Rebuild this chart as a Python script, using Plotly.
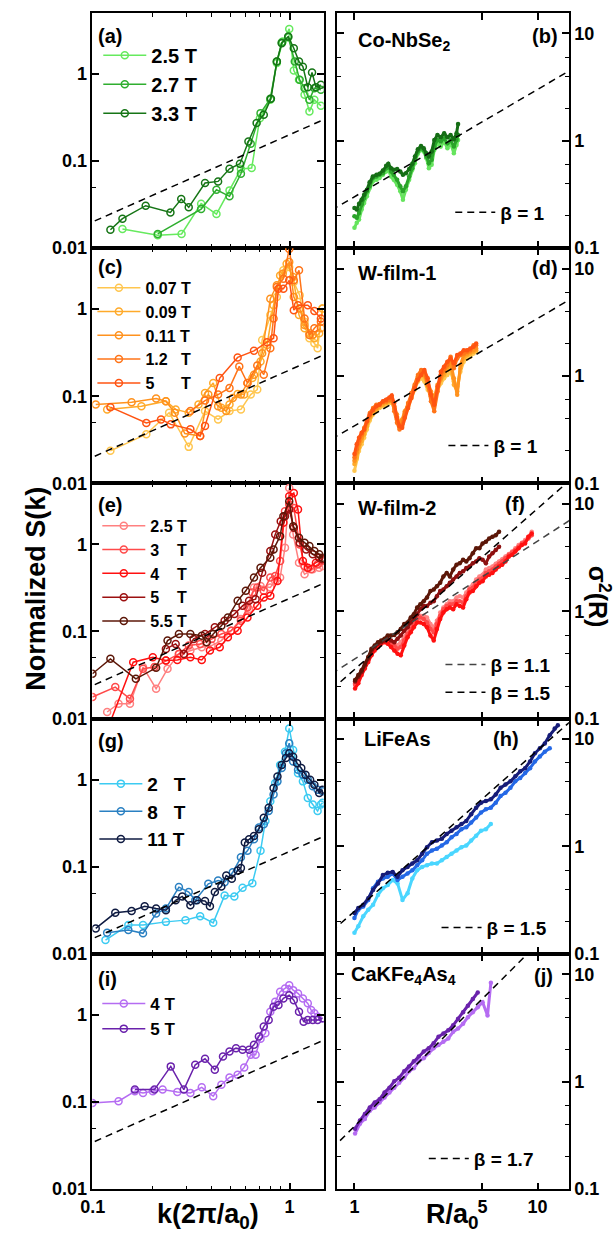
import plotly.graph_objects as go

W, H = 614, 1239
FONT = "Liberation Sans, Arial, Helvetica, sans-serif"

# ---------------- S(k) data (left column) ----------------
# (a) Co-NbSe2
k_a_25 = [0.1415, 0.2138, 0.2826, 0.3553, 0.4252, 0.4953, 0.566, 0.642, 0.7066, 0.7985, 0.8619, 0.9231, 0.9962, 1.051, 1.117, 1.192, 1.262, 1.337, 1.443]
s_a_25 = [0.0165, 0.0140, 0.0145, 0.0323, 0.0245, 0.0459, 0.0806, 0.0827, 0.310, 0.503, 1.33, 2.35, 3.28, 1.09, 0.853, 0.574, 0.370, 0.503, 0.430]
k_a_27 = [0.2138, 0.3553, 0.4252, 0.4953, 0.566, 0.6348, 0.712, 0.7985, 0.8619, 0.9128, 0.9849, 1.063, 1.126, 1.192, 1.262, 1.337, 1.443]
s_a_27 = [0.0145, 0.0280, 0.0467, 0.0392, 0.0713, 0.1574, 0.354, 0.517, 1.385, 2.29, 2.63, 1.385, 0.853, 0.685, 0.503, 0.685, 0.655]
k_a_33 = [0.1229, 0.1415, 0.1857, 0.2481, 0.2815, 0.3073, 0.3719, 0.4334, 0.4953, 0.5596, 0.618, 0.6801, 0.7396, 0.804, 0.8619, 0.9128, 0.9849, 1.051, 1.117, 1.169, 1.238, 1.301, 1.362, 1.443]
s_a_33 = [0.0162, 0.0217, 0.0306, 0.0256, 0.0365, 0.0293, 0.0557, 0.0582, 0.0813, 0.0928, 0.1675, 0.272, 0.339, 0.517, 1.385, 2.25, 2.68, 1.97, 1.385, 1.21, 0.703, 1.036, 0.703, 0.748]

# (c) W-film-1
k_c_007 = [0.1229, 0.1871, 0.2443, 0.3073, 0.3719, 0.4334, 0.4953, 0.566, 0.6348, 0.6853, 0.7258, 0.7985, 0.8619, 0.9304, 0.9962, 1.051, 1.126, 1.192, 1.262, 1.337, 1.389, 1.471]
s_c_007 = [0.0236, 0.0366, 0.0646, 0.0262, 0.0675, 0.0542, 0.0675, 0.0705, 0.1045, 0.1191, 0.443, 0.854, 1.38, 2.79, 3.04, 2.05, 1.445, 0.717, 0.463, 0.406, 0.356, 1.018]
k_c_009 = [0.1183, 0.1767, 0.2353, 0.2638, 0.3073, 0.3446, 0.3719, 0.4093, 0.4502, 0.4953, 0.5448, 0.5881, 0.6471, 0.712, 0.7685, 0.8295, 0.8955, 0.9663, 1.043, 1.117, 1.192, 1.262, 1.337, 1.415, 1.471]
s_c_009 = [0.0705, 0.0769, 0.0877, 0.0705, 0.0646, 0.0804, 0.1091, 0.1419, 0.0736, 0.0804, 0.1063, 0.1045, 0.1618, 0.251, 0.388, 1.11, 2.44, 3.32, 2.34, 0.854, 0.602, 0.528, 0.463, 0.528, 1.018]
k_c_011 = [0.1035, 0.1575, 0.2098, 0.2353, 0.2608, 0.2936, 0.3513, 0.3865, 0.4334, 0.4768, 0.5145, 0.566, 0.611, 0.6596, 0.7258, 0.7985, 0.8619, 0.9231, 0.9962, 1.051, 1.126, 1.192, 1.312, 1.443]
s_c_011 = [0.0804, 0.0854, 0.0940, 0.0877, 0.0646, 0.0372, 0.0350, 0.1045, 0.0769, 0.0675, 0.0957, 0.1045, 0.1419, 0.1767, 0.312, 1.32, 1.88, 2.55, 3.47, 1.38, 1.018, 0.657, 0.505, 0.602]
k_c_12 = [0.3133, 0.3719, 0.4334, 0.4953, 0.5553, 0.611, 0.6853, 0.7396, 0.7985, 0.8295, 0.8619, 0.9304, 0.9962, 1.051, 1.117, 1.192, 1.262, 1.337, 1.443]
s_c_12 = [0.0675, 0.0892, 0.1045, 0.1245, 0.220, 0.1419, 0.2257, 0.1767, 0.356, 0.782, 1.80, 2.24, 4.92, 2.14, 2.79, 0.782, 0.505, 0.602, 0.717]
k_c_5 = [0.1229, 0.1871, 0.2222, 0.2491, 0.3133, 0.3513, 0.3719, 0.4417, 0.5448, 0.6596, 0.7685, 0.8295, 0.8785, 0.9304, 0.9962, 1.051, 1.104, 1.238, 1.337, 1.443]
s_c_5 = [0.0749, 0.0492, 0.0542, 0.0475, 0.0417, 0.0350, 0.0455, 0.1618, 0.279, 0.332, 0.417, 0.463, 1.72, 1.72, 2.14, 0.974, 1.11, 1.11, 0.949, 0.782]

# (e) W-film-2
k_e_25 = [0.1183, 0.1352, 0.1545, 0.18, 0.2098, 0.2398, 0.274, 0.3133, 0.358, 0.4015, 0.4502, 0.505, 0.566, 0.6228, 0.6596, 0.712, 0.7985, 0.8455, 0.8955, 0.948, 0.9962, 1.043, 1.117, 1.192, 1.312, 1.415, 1.471]
s_e_25 = [0.0119, 0.0148, 0.0148, 0.0390, 0.0220, 0.0373, 0.0553, 0.0604, 0.0659, 0.0689, 0.0786, 0.1022, 0.139, 0.181, 0.320, 0.334, 0.320, 0.381, 0.416, 0.916, 4.44, 1.30, 0.617, 0.454, 0.518, 0.541, 0.566]
k_e_3 = [0.0996, 0.1301, 0.1545, 0.18, 0.2058, 0.2353, 0.274, 0.3073, 0.3513, 0.4015, 0.4502, 0.505, 0.566, 0.611, 0.6471, 0.6853, 0.7396, 0.7985, 0.8455, 0.8955, 0.948, 0.9962, 1.051, 1.126, 1.192, 1.287, 1.389, 1.471]
s_e_3 = [0.0177, 0.0230, 0.0169, 0.0373, 0.0390, 0.0464, 0.0553, 0.0689, 0.0720, 0.0821, 0.0936, 0.1022, 0.133, 0.189, 0.280, 0.320, 0.293, 0.416, 0.435, 0.645, 2.40, 2.87, 2.62, 1.0, 0.566, 0.518, 0.591, 0.645]
k_e_4 = [0.1183, 0.1605, 0.2019, 0.2353, 0.2689, 0.3133, 0.358, 0.3939, 0.4417, 0.486, 0.5448, 0.611, 0.6853, 0.7396, 0.7985, 0.8682, 0.9304, 0.9962, 1.051, 1.104, 1.169, 1.238, 1.362, 1.471]
s_e_4 = [0.00735, 0.0444, 0.0507, 0.0464, 0.0472, 0.0507, 0.0472, 0.0604, 0.0659, 0.0858, 0.1022, 0.145, 0.197, 0.246, 0.257, 0.381, 1.77, 3.57, 3.89, 2.51, 0.645, 0.541, 0.617, 0.674]
k_e_5 = [0.2353, 0.2638, 0.2902, 0.3254, 0.3719, 0.4171, 0.4677, 0.5243, 0.5769, 0.6228, 0.6723, 0.7258, 0.7985, 0.8455, 0.902, 0.948, 0.9962, 1.051, 1.126, 1.215, 1.312, 1.415, 1.471]
s_e_5 = [0.0631, 0.0720, 0.0553, 0.0821, 0.0936, 0.1116, 0.133, 0.1585, 0.197, 0.225, 0.235, 0.474, 0.839, 1.30, 1.85, 2.11, 2.51, 1.55, 1.045, 0.877, 0.769, 0.704, 0.674]
k_e_55 = [0.0996, 0.1229, 0.1655, 0.2098, 0.2398, 0.274, 0.3133, 0.358, 0.3791, 0.4093, 0.4502, 0.486, 0.5448, 0.5994, 0.6596, 0.712, 0.7985, 0.8295, 0.8955, 0.9304, 0.9962, 1.043, 1.117, 1.192, 1.262, 1.337, 1.415, 1.471]
s_e_55 = [0.0327, 0.0485, 0.0286, 0.0383, 0.0786, 0.0936, 0.0936, 0.0896, 0.0752, 0.0936, 0.1166, 0.145, 0.225, 0.293, 0.416, 0.541, 0.704, 0.877, 1.245, 2.11, 3.13, 1.62, 1.19, 1.045, 0.957, 0.839, 0.769, 0.704]

# (g) LiFeAs
k_g_2 = [0.116, 0.1516, 0.18, 0.2353, 0.2958, 0.3513, 0.4093, 0.4677, 0.5243, 0.5769, 0.6471, 0.712, 0.7539, 0.7985, 0.8455, 0.8955, 0.948, 0.9962, 1.043, 1.104, 1.169, 1.238, 1.312, 1.389, 1.443, 1.471]
s_g_2 = [0.0144, 0.0214, 0.0214, 0.0233, 0.0244, 0.0271, 0.0227, 0.0469, 0.0457, 0.0574, 0.0649, 0.1527, 0.335, 0.567, 0.916, 1.48, 2.10, 3.88, 2.20, 1.19, 0.957, 0.618, 0.519, 0.436, 0.519, 0.542]
k_g_8 = [0.1183, 0.1516, 0.18, 0.2098, 0.2353, 0.274, 0.3073, 0.3317, 0.3865, 0.4334, 0.4677, 0.5145, 0.566, 0.611, 0.6596, 0.6986, 0.7396, 0.7834, 0.8295, 0.8682, 0.9128, 0.9589, 0.9962, 1.043, 1.104, 1.169, 1.238, 1.312, 1.389, 1.471]
s_g_8 = [0.0175, 0.0188, 0.0172, 0.0290, 0.0331, 0.0584, 0.0512, 0.0412, 0.0637, 0.0696, 0.0666, 0.0866, 0.1283, 0.1527, 0.207, 0.282, 0.307, 0.436, 0.675, 0.957, 1.36, 2.01, 2.62, 1.62, 1.30, 1.14, 1.0, 0.840, 0.769, 0.737]
k_g_11 = [0.1035, 0.1301, 0.1575, 0.1835, 0.2098, 0.2353, 0.2638, 0.2848, 0.3133, 0.3381, 0.3719, 0.3939, 0.4171, 0.4502, 0.4768, 0.5087, 0.5448, 0.566, 0.5926, 0.6228, 0.6596, 0.6986, 0.7396, 0.7834, 0.8295, 0.8682, 0.9128, 0.9589, 0.9962, 1.043, 1.092, 1.147, 1.206, 1.272, 1.337, 1.415, 1.471]
s_g_11 = [0.0196, 0.0296, 0.0311, 0.0352, 0.0331, 0.0317, 0.0412, 0.0457, 0.0361, 0.0412, 0.0405, 0.0352, 0.0512, 0.0594, 0.0793, 0.0727, 0.0904, 0.0970, 0.190, 0.207, 0.226, 0.270, 0.366, 0.476, 0.804, 1.09, 1.48, 1.77, 2.01, 1.84, 1.55, 1.36, 1.14, 1.0, 0.877, 0.705, 0.769]

# (i) CaKFe4As4
k_i_4 = [0.0996, 0.1352, 0.1636, 0.18, 0.2019, 0.2264, 0.2689, 0.3133, 0.358, 0.4093, 0.4502, 0.4953, 0.5448, 0.5881, 0.6348, 0.6723, 0.712, 0.7539, 0.7985, 0.8455, 0.8955, 0.948, 0.9962, 1.043, 1.104, 1.169, 1.238, 1.287, 1.337, 1.389, 1.471]
s_i_4 = [0.0978, 0.1022, 0.133, 0.1273, 0.133, 0.139, 0.1307, 0.1273, 0.1477, 0.1166, 0.1585, 0.192, 0.206, 0.250, 0.349, 0.349, 0.532, 0.617, 1.09, 1.42, 1.85, 2.02, 2.20, 1.93, 1.77, 1.55, 1.36, 1.14, 1.045, 0.957, 0.916]
k_i_5 = [0.1636, 0.2058, 0.2491, 0.2902, 0.3317, 0.3719, 0.4171, 0.4589, 0.4953, 0.5345, 0.5769, 0.6228, 0.6596, 0.6986, 0.7396, 0.7834, 0.8295, 0.8785, 0.9304, 0.9962, 1.051, 1.117, 1.179, 1.238, 1.312, 1.389, 1.471]
s_i_5 = [0.139, 0.139, 0.257, 0.139, 0.268, 0.314, 0.235, 0.334, 0.381, 0.416, 0.398, 0.398, 0.454, 0.566, 0.736, 0.877, 1.245, 1.30, 1.55, 1.69, 1.48, 1.09, 0.839, 0.877, 0.877, 0.877, 0.916]

# S(k) ~ k guide amplitudes (value at k = 1)
sk_guide_amp = {1: 0.2, 3: 0.2, 5: 0.24, 7: 0.15, 9: 0.345}

# ---------------- sigma^2(R) data (right column) ----------------
# (b) Co-NbSe2
R_b = [1.00, 1.03, 1.06, 1.095, 1.13, 1.17, 1.21, 1.26, 1.32, 1.37, 1.43, 1.49, 1.53, 1.585, 1.64, 1.71, 1.78, 1.84, 1.91, 1.99, 2.07, 2.14, 2.22, 2.31, 2.39, 2.47, 2.55, 2.64, 2.73, 2.84, 2.96, 3.09, 3.22, 3.35, 3.49, 3.61, 3.68]
v_b_25 = [0.154, 0.172, 0.184, 0.228, 0.263, 0.303, 0.362, 0.417, 0.432, 0.448, 0.481, 0.516, 0.535, 0.464, 0.432, 0.389, 0.337, 0.282, 0.349, 0.432, 0.535, 0.617, 0.753, 0.820, 0.791, 0.686, 0.554, 0.595, 0.820, 0.945, 0.880, 0.979, 0.849, 0.945, 0.763, 0.912, 1.014]
v_b_27 = [0.198, 0.191, 0.212, 0.254, 0.292, 0.337, 0.375, 0.448, 0.464, 0.481, 0.498, 0.554, 0.574, 0.516, 0.481, 0.432, 0.375, 0.337, 0.375, 0.464, 0.554, 0.662, 0.791, 0.849, 0.820, 0.711, 0.617, 0.662, 0.880, 1.014, 0.979, 1.051, 0.945, 1.014, 0.880, 1.014, 1.128]
v_b_33 = [0.236, 0.228, 0.258, 0.282, 0.314, 0.349, 0.409, 0.464, 0.481, 0.491, 0.527, 0.583, 0.608, 0.554, 0.535, 0.543, 0.516, 0.481, 0.498, 0.543, 0.608, 0.711, 0.831, 0.893, 0.849, 0.763, 0.711, 0.791, 1.014, 1.128, 1.074, 1.169, 1.074, 1.128, 1.03, 1.169, 1.43]

# (d) W-film-1
R_d = [1.00, 1.029, 1.059, 1.095, 1.131, 1.169, 1.213, 1.264, 1.317, 1.372, 1.43, 1.49, 1.553, 1.598, 1.65, 1.707, 1.763, 1.822, 1.883, 1.963, 2.046, 2.131, 2.221, 2.314, 2.41, 2.512, 2.617, 2.728, 2.842, 2.961, 3.085, 3.215, 3.35, 3.49, 3.64, 3.79, 3.95, 4.12, 4.29, 4.47, 4.62]
v_d_007 = [0.131, 0.168, 0.200, 0.231, 0.266, 0.317, 0.384, 0.437, 0.469, 0.503, 0.521, 0.540, 0.559, 0.571, 0.496, 0.421, 0.353, 0.340, 0.421, 0.503, 0.622, 0.743, 0.886, 0.952, 0.886, 0.743, 0.668, 0.580, 0.743, 0.856, 0.952, 1.021, 1.096, 0.886, 0.797, 1.096, 1.356, 1.456, 1.508, 1.619, 1.677]
v_d_009 = [0.151, 0.174, 0.215, 0.248, 0.285, 0.340, 0.407, 0.452, 0.485, 0.521, 0.540, 0.559, 0.580, 0.588, 0.503, 0.393, 0.329, 0.366, 0.437, 0.521, 0.645, 0.769, 0.952, 1.058, 0.986, 0.797, 0.645, 0.559, 0.769, 0.919, 1.021, 1.136, 1.263, 0.826, 0.717, 1.177, 1.456, 1.563, 1.619, 1.677, 1.738]
v_d_011 = [0.162, 0.193, 0.231, 0.266, 0.306, 0.366, 0.421, 0.469, 0.503, 0.540, 0.559, 0.571, 0.588, 0.600, 0.521, 0.437, 0.353, 0.393, 0.469, 0.540, 0.668, 0.797, 0.986, 1.096, 1.021, 0.886, 0.717, 0.622, 0.826, 0.952, 1.096, 1.219, 1.356, 0.952, 0.668, 1.263, 1.563, 1.619, 1.677, 1.738, 1.800]
v_d_12 = [0.174, 0.207, 0.248, 0.285, 0.329, 0.384, 0.452, 0.503, 0.540, 0.548, 0.571, 0.580, 0.600, 0.622, 0.469, 0.366, 0.317, 0.353, 0.452, 0.559, 0.692, 0.826, 1.021, 1.136, 1.096, 0.826, 0.580, 0.469, 0.717, 1.021, 1.136, 1.263, 1.508, 1.177, 1.456, 1.563, 1.619, 1.677, 1.738, 1.933, 1.933]
v_d_5 = [0.187, 0.231, 0.266, 0.296, 0.317, 0.379, 0.437, 0.485, 0.521, 0.540, 0.580, 0.600, 0.631, 0.658, 0.559, 0.407, 0.340, 0.329, 0.407, 0.503, 0.622, 0.769, 0.919, 1.021, 1.136, 0.952, 0.668, 0.540, 0.797, 1.096, 1.219, 1.356, 1.456, 1.309, 1.563, 1.619, 1.738, 1.738, 1.800, 1.866, 2.002]

# (f) W-film-2 (the 5 T and 5.5 T scans stop at R ~ 6.2)
R_f = [1.008, 1.05, 1.095, 1.14, 1.19, 1.239, 1.29, 1.345, 1.40, 1.46, 1.52, 1.585, 1.65, 1.72, 1.79, 1.87, 1.95, 2.03, 2.11, 2.20, 2.29, 2.39, 2.49, 2.60, 2.71, 2.82, 2.94, 3.06, 3.19, 3.32, 3.46, 3.61, 3.76, 3.92, 4.08, 4.25, 4.43, 4.62, 4.81, 5.01, 5.22, 5.44, 5.67, 5.91, 6.16, 6.41, 6.68, 6.97, 7.26, 7.56, 7.88, 8.21, 8.55, 8.91, 9.29]
v_f_25 = [0.213, 0.245, 0.282, 0.314, 0.362, 0.417, 0.463, 0.497, 0.522, 0.545, 0.533, 0.515, 0.497, 0.480, 0.515, 0.573, 0.659, 0.733, 0.786, 0.874, 0.906, 0.906, 0.874, 0.759, 0.707, 0.815, 0.972, 1.08, 1.16, 1.24, 1.24, 1.34, 1.38, 1.34, 1.49, 1.65, 1.77, 1.97, 2.11, 2.19, 2.44, 2.52, 2.61, 2.77, 2.91, 3.05, 3.23, 3.42, 3.59, 3.85, 4.14, 4.35, 4.60, 4.93, 5.49]
v_f_3 = [0.206, 0.237, 0.273, 0.303, 0.349, 0.402, 0.447, 0.480, 0.515, 0.533, 0.522, 0.497, 0.480, 0.447, 0.463, 0.533, 0.614, 0.683, 0.759, 0.844, 0.874, 0.844, 0.786, 0.683, 0.636, 0.759, 0.906, 1.04, 1.12, 1.16, 1.16, 1.24, 1.24, 1.20, 1.38, 1.59, 1.65, 1.84, 1.97, 2.04, 2.27, 2.35, 2.44, 2.61, 2.77, 2.91, 3.12, 3.35, 3.52, 3.72, 3.99, 4.28, 4.44, 4.76, 5.11]
v_f_4 = [0.191, 0.213, 0.254, 0.292, 0.337, 0.388, 0.431, 0.463, 0.497, 0.515, 0.497, 0.463, 0.431, 0.402, 0.388, 0.480, 0.573, 0.636, 0.707, 0.786, 0.786, 0.759, 0.707, 0.593, 0.533, 0.683, 0.844, 0.972, 1.04, 1.08, 1.04, 1.16, 1.12, 1.08, 1.29, 1.49, 1.54, 1.71, 1.84, 1.90, 2.11, 2.19, 2.27, 2.44, 2.61, 2.71, 2.91, 3.23, 3.35, 3.59, 3.85, 4.14, 4.28, 4.93, 5.30]
v_f_5 = [0.221, 0.245, 0.273, 0.314, 0.362, 0.431, 0.463, 0.497, 0.515, 0.533, 0.553, 0.533, 0.515, 0.553, 0.593, 0.659, 0.707, 0.786, 0.844, 0.938, 1.04, 1.12, 1.12, 1.20, 1.24, 1.38, 1.54, 1.59, 1.71, 1.84, 1.97, 2.11, 2.27, 2.35, 2.52, 2.61, 2.80, 2.91, 3.12, 3.01, 2.80, 3.23, 3.47, 3.72, 3.99]
v_f_55 = [0.228, 0.254, 0.282, 0.325, 0.375, 0.447, 0.480, 0.515, 0.533, 0.553, 0.593, 0.593, 0.601, 0.636, 0.683, 0.759, 0.786, 0.874, 0.938, 1.08, 1.16, 1.24, 1.34, 1.54, 1.59, 1.71, 1.84, 2.11, 2.27, 2.11, 2.44, 2.71, 2.80, 3.01, 2.91, 3.12, 3.47, 3.85, 3.85, 4.28, 4.44, 4.76, 4.93, 5.11, 5.49]

# (h) LiFeAs (the 2 T scan stops at R ~ 5.6, the 8 T scan at R ~ 11.7)
R_h = [1.00, 1.05, 1.117, 1.19, 1.264, 1.345, 1.43, 1.52, 1.618, 1.72, 1.83, 1.95, 2.07, 2.20, 2.342, 2.49, 2.65, 2.82, 3.0, 3.19, 3.39, 3.61, 3.84, 4.08, 4.34, 4.62, 4.91, 5.22, 5.555, 5.91, 6.28, 6.68, 7.11, 7.56, 8.04, 8.55, 9.10, 9.67, 10.29, 10.95, 11.65, 12.4, 12.9]
v_h_2 = [0.157, 0.181, 0.224, 0.258, 0.286, 0.354, 0.408, 0.438, 0.487, 0.453, 0.318, 0.367, 0.504, 0.601, 0.645, 0.669, 0.693, 0.693, 0.743, 0.798, 0.856, 0.919, 0.986, 1.02, 1.136, 1.26, 1.40, 1.45, 1.62]
v_h_8 = [0.216, 0.258, 0.276, 0.318, 0.408, 0.470, 0.504, 0.522, 0.560, 0.487, 0.522, 0.560, 0.601, 0.669, 0.743, 0.856, 0.919, 0.952, 1.02, 1.096, 1.22, 1.31, 1.45, 1.51, 1.67, 1.86, 2.07, 2.22, 2.30, 2.56, 2.95, 3.16, 3.52, 4.05, 4.35, 4.83, 5.37, 6.19, 6.88, 7.64, 8.21]
v_h_11 = [0.240, 0.267, 0.286, 0.330, 0.394, 0.453, 0.541, 0.568, 0.580, 0.522, 0.601, 0.645, 0.693, 0.743, 0.856, 0.986, 1.096, 1.136, 1.18, 1.31, 1.40, 1.51, 1.62, 1.73, 2.00, 2.30, 2.56, 2.65, 2.75, 3.05, 3.52, 3.77, 4.05, 4.50, 5.01, 5.37, 6.19, 7.38, 8.21, 9.12, 10.89, 12.54, 13.45]

# (j) CaKFe4As4 (the 5 T scan stops at R ~ 4.7)
R_j = [1.008, 1.072, 1.14, 1.213, 1.29, 1.372, 1.46, 1.553, 1.65, 1.756, 1.87, 1.987, 2.11, 2.247, 2.39, 2.543, 2.705, 2.877, 3.06, 3.254, 3.46, 3.68, 3.92, 4.165, 4.43, 4.713, 5.01, 5.33, 5.56]
v_j_4 = [0.329, 0.406, 0.451, 0.538, 0.577, 0.642, 0.713, 0.793, 0.881, 0.979, 1.09, 1.25, 1.34, 1.55, 1.66, 1.85, 2.05, 2.20, 2.36, 2.53, 2.92, 3.13, 3.48, 4.00, 4.45, 4.95, 5.50, 4.15, 8.38]
v_j_5 = [0.365, 0.436, 0.502, 0.577, 0.642, 0.689, 0.793, 0.881, 1.01, 1.09, 1.25, 1.39, 1.55, 1.72, 1.91, 2.05, 2.28, 2.62, 2.82, 3.02, 3.36, 3.87, 4.45, 5.12, 5.90, 6.79]

# sigma^2 = C * R^beta guides: panel -> list of (C, beta, colour)
sig_guides = {
    2: [(0.30, 1.0, "black")],
    4: [(0.343, 1.0, "black")],
    6: [(0.358, 1.1, "#444444"), (0.286, 1.5, "black")],
    8: [(0.249, 1.5, "black")],
    10: [(0.385, 1.7, "black")],
}

# ---------------- figure ----------------
fig = go.Figure()

LEFT_X = (82, 318)
RIGHT_X = (331.7, 568)
TOP, ROW_H = 13, 237.2
DASH = "7px,5px"


def ax_ids(p):
    return ("x", "y") if p == 1 else (f"x{p}", f"y{p}")


def legend_id(p):
    row, col = (p - 1) // 2, (p - 1) % 2
    n = row + 1 if col == 0 else row + 6
    return "legend" if n == 1 else f"legend{n}"


def add_sk(p, k, s, name, color):
    xa, ya = ax_ids(p)
    fig.add_trace(go.Scatter(
        x=k, y=s, name=name, mode="lines+markers", xaxis=xa, yaxis=ya,
        legend=legend_id(p),
        line=dict(color=color, width=1.5),
        marker=dict(symbol="circle-open", size=7, color=color,
                    line=dict(width=1.5, color=color)),
    ))


def add_sig(p, r, v, color):
    xa, ya = ax_ids(p)
    fig.add_trace(go.Scatter(
        x=r[:len(v)], y=v, mode="lines+markers", xaxis=xa, yaxis=ya,
        showlegend=False, line=dict(color=color, width=3),
        marker=dict(symbol="circle", size=4.5, color=color),
    ))


# left column: S(k)
add_sk(1, k_a_25, s_a_25, "2.5 T", "#66ea5e")
add_sk(1, k_a_27, s_a_27, "2.7 T", "#2fae2f")
add_sk(1, k_a_33, s_a_33, "3.3 T", "#167516")

add_sk(3, k_c_007, s_c_007, "0.07 T", "#ffc64f")
add_sk(3, k_c_009, s_c_009, "0.09 T", "#ffaa2a")
add_sk(3, k_c_011, s_c_011, "0.11 T", "#ff921e")
add_sk(3, k_c_12, s_c_12, "1.2\u00a0\u00a0\u00a0T", "#ff7418")
add_sk(3, k_c_5, s_c_5, "5\u00a0\u00a0\u00a0\u00a0\u00a0\u00a0T", "#ff5412")

add_sk(5, k_e_25, s_e_25, "2.5 T", "#ff8080")
add_sk(5, k_e_3, s_e_3, "3\u00a0\u00a0\u00a0\u00a0T", "#ff4a4a")
add_sk(5, k_e_4, s_e_4, "4\u00a0\u00a0\u00a0\u00a0T", "#ff1010")
add_sk(5, k_e_5, s_e_5, "5\u00a0\u00a0\u00a0\u00a0T", "#9c1010")
add_sk(5, k_e_55, s_e_55, "5.5 T", "#5c1708")

add_sk(7, k_g_2, s_g_2, "2\u00a0\u00a0\u00a0T", "#3ccbf2")
add_sk(7, k_g_8, s_g_8, "8\u00a0\u00a0\u00a0T", "#2a80c2")
add_sk(7, k_g_11, s_g_11, "11 T", "#0f1b42")

add_sk(9, k_i_4, s_i_4, "4 T", "#b56cf2")
add_sk(9, k_i_5, s_i_5, "5 T", "#6a22ac")

for p, amp in sk_guide_amp.items():
    xa, ya = ax_ids(p)
    k_ends = [0.09, 1.6]
    fig.add_trace(go.Scatter(
        x=k_ends, y=[amp * k for k in k_ends], mode="lines", xaxis=xa, yaxis=ya,
        showlegend=False, line=dict(color="black", width=1.5, dash=DASH),
    ))

# right column: sigma^2(R)
add_sig(2, R_b, v_b_25, "#66e45e")
add_sig(2, R_b, v_b_27, "#2aa42a")
add_sig(2, R_b, v_b_33, "#156e15")

add_sig(4, R_d, v_d_007, "#ffc64f")
add_sig(4, R_d, v_d_009, "#ffaa2a")
add_sig(4, R_d, v_d_011, "#ff921e")
add_sig(4, R_d, v_d_12, "#ff7418")
add_sig(4, R_d, v_d_5, "#ff5412")

add_sig(6, R_f, v_f_25, "#ff8585")
add_sig(6, R_f, v_f_3, "#ff4a4a")
add_sig(6, R_f, v_f_4, "#ff1010")
add_sig(6, R_f, v_f_5, "#8e1010")
add_sig(6, R_f, v_f_55, "#5c1708")

add_sig(8, R_h, v_h_2, "#4ad6ff")
add_sig(8, R_h, v_h_8, "#2468e6")
add_sig(8, R_h, v_h_11, "#161c78")

add_sig(10, R_j, v_j_4, "#b56cf2")
add_sig(10, R_j, v_j_5, "#6a22ac")

for p, guides in sig_guides.items():
    xa, ya = ax_ids(p)
    r_ends = [0.75, 16.0]
    for amp, beta, color in guides:
        fig.add_trace(go.Scatter(
            x=r_ends, y=[amp * r ** beta for r in r_ends], mode="lines",
            xaxis=xa, yaxis=ya, name=f"\u03b2 = {beta:g}", legend=legend_id(p),
            line=dict(color=color, width=1.5, dash=DASH),
        ))

# ---------------- axes ----------------
tickfont = dict(family=FONT, size=18, color="black", weight="bold")
axis_common = dict(
    type="log", showgrid=False, zeroline=False, showline=True,
    linecolor="black", linewidth=1.5, mirror="ticks", ticks="inside",
    ticklen=7, tickwidth=1.5, tickcolor="black", tickfont=tickfont,
    tickmode="array",
)

layout_axes = {}
for p in range(1, 11):
    row, col = (p - 1) // 2, (p - 1) % 2
    top = TOP + row * ROW_H
    bot = top + ROW_H
    x0, x1 = LEFT_X if col == 0 else RIGHT_X
    xa, ya = ax_ids(p)
    xkey = "xaxis" if p == 1 else f"xaxis{p}"
    ykey = "yaxis" if p == 1 else f"yaxis{p}"
    bottom_row = row == 4
    if col == 0:
        xcfg = dict(axis_common, domain=[x0 / W, x1 / W], anchor=ya,
                    range=[-1.002, 0.174], tickvals=[0.1, 1], ticktext=["0.1", "1"],
                    showticklabels=bottom_row,
                    minor=dict(tickmode="array", tickvals=[0.2, 0.3, 0.4, 0.5, 0.6, 0.7, 0.8, 0.9],
                               ticks="inside", ticklen=4, tickwidth=1.2, tickcolor="black"))
        ycfg = dict(axis_common, domain=[1 - bot / H, 1 - top / H], anchor=xa,
                    range=[-2.002, 0.70], tickvals=[0.01, 0.1, 1], ticktext=["0.01", "0.1", "1"],
                    side="left",
                    minor=dict(tickmode="array", tickvals=[0.05],
                               ticks="inside", ticklen=4, tickwidth=1.2, tickcolor="black"))
    else:
        xcfg = dict(axis_common, domain=[x0 / W, x1 / W], anchor=ya,
                    range=[-0.094, 1.171], tickvals=[1, 5, 10], ticktext=["1", "5", "10"],
                    showticklabels=bottom_row)
        ycfg = dict(axis_common, domain=[1 - bot / H, 1 - top / H], anchor=xa,
                    range=[-1.002, 1.19], tickvals=[0.1, 1, 10], ticktext=["0.1", "1", "10"],
                    side="right",
                    minor=dict(tickmode="array", tickvals=[0.2, 0.4, 0.6, 2, 4, 6],
                               ticks="inside", ticklen=4, tickwidth=1.2, tickcolor="black"))
    layout_axes[xkey] = xcfg
    layout_axes[ykey] = ycfg


def legend_cfg(x_px, y_px, size, itemwidth=43):
    return dict(x=x_px / W, y=1 - y_px / H, xanchor="left", yanchor="top",
                xref="paper", yref="paper", bgcolor="rgba(0,0,0,0)", borderwidth=0,
                font=dict(family=FONT, size=size, color="black", weight="bold"),
                itemwidth=itemwidth, tracegroupgap=0, traceorder="normal")


legends = {
    "legend": legend_cfg(88, 36, 20),
    "legend2": legend_cfg(82, 273, 16),
    "legend3": legend_cfg(87, 513, 16),
    "legend4": legend_cfg(84, 771, 19),
    "legend5": legend_cfg(87, 994, 17),
    "legend6": legend_cfg(447, 195, 19, 40),
    "legend7": legend_cfg(440, 430, 19, 40),
    "legend8": legend_cfg(437, 651, 19, 40),
    "legend9": legend_cfg(433, 916, 19, 40),
    "legend10": legend_cfg(420, 1149, 19, 40),
}

# ---------------- text ----------------
def label(x_px, y_px, text, size=20, xanchor="left", angle=0):
    return dict(x=x_px / W, y=1 - y_px / H, xref="paper", yref="paper", text=text,
                showarrow=False, xanchor=xanchor, yanchor="middle", textangle=angle,
                font=dict(family=FONT, size=size, color="black", weight="bold"))


annotations = [
    label(86, 36, "(a)"), label(86, 269, "(c)"), label(86, 509, "(e)"),
    label(86, 747, "(g)"), label(86, 987, "(i)"),
    label(559, 36, "(b)", xanchor="right"), label(559, 270, "(d)", xanchor="right"),
    label(525, 508, "(f)", xanchor="right"), label(519, 745, "(h)", xanchor="right"),
    label(554, 984, "(j)", xanchor="right"),
    label(351, 42, "Co-NbSe<sub>2</sub>"),
    label(351, 275, "W-film-1"),
    label(351, 512, "W-film-2"),
    label(357, 745, "LiFeAs"),
    label(344, 983, "CaKFe<sub>4</sub>As<sub>4</sub>"),
    label(25, 594, "Normalized S(k)", size=27, xanchor="center", angle=-90),
    label(599, 602, "\u03c3<sup>2</sup>(R)", size=25, xanchor="center", angle=90),
    label(200, 1226, "k(2\u03c0/a<sub>0</sub>)", size=27, xanchor="center"),
    label(449, 1226, "R/a<sub>0</sub>", size=27, xanchor="center"),
]

fig.update_layout(
    width=W, height=H, margin=dict(l=0, r=0, t=0, b=0),
    paper_bgcolor="white", plot_bgcolor="white",
    showlegend=True, annotations=annotations,
    **layout_axes, **legends,
)

fig.write_html("out.html", config={"displayModeBar": False})
